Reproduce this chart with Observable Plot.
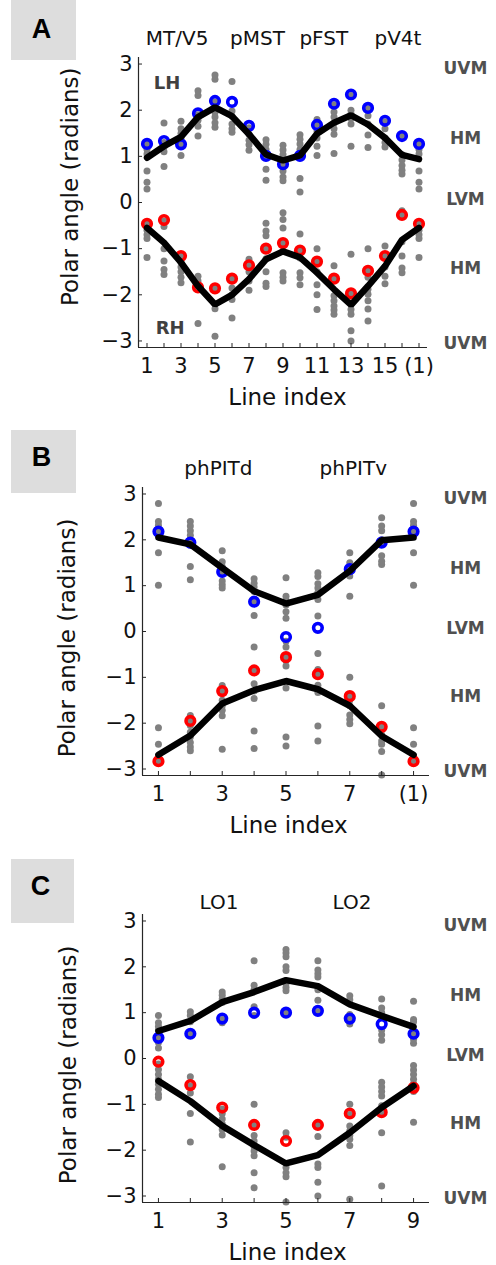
<!DOCTYPE html>
<html><head><meta charset="utf-8">
<script src="https://cdn.jsdelivr.net/npm/d3@7"></script>
<script src="https://cdn.jsdelivr.net/npm/@observablehq/plot@0.6"></script>
<style>
body{margin:0;background:#fff;}
#page{position:relative;width:496px;height:1265px;overflow:hidden;background:#fff;}
.panel{position:absolute;left:0;}
.tag{position:absolute;background:#dddddd;display:flex;align-items:center;justify-content:center;font-family:"Liberation Sans",Arial,sans-serif;font-weight:bold;font-size:27px;color:#000;box-sizing:border-box;}
</style></head>
<body><div id="page">
<div id="pA" class="panel" style="top:0px"></div>
<div id="pB" class="panel" style="top:420px"></div>
<div id="pC" class="panel" style="top:840px"></div>
<div class="tag" style="left:11px;top:-4px;width:65px;height:64px;padding-right:4px;padding-top:2px">A</div>
<div class="tag" style="left:11px;top:430px;width:65px;height:63px;padding-right:4px;padding-bottom:8px">B</div>
<div class="tag" style="left:11px;top:859px;width:63px;height:64px;padding-right:4px;padding-bottom:10px">C</div>
</div>
<script>
// ---------- shared ----------
const yTicks = [-3, -2, -1, 0, 1, 2, 3];
const meridianNames = ["UVM", "HM", "LVM", "HM", "UVM"];
const meridianY = [2.91, 1.38, 0.07, -1.43, -3.05];
const yLabel = "Polar angle (radians)";
const xLabel = "Line index";

// ---------- Panel A ----------
const tickPosA = [1, 3, 5, 7, 9, 11, 13, 15, 17];
const tickLabA = ["1", "3", "5", "7", "9", "11", "13", "15", "(1)"];
const regionNamesA = ["MT/V5", "pMST", "pFST", "pV4t"];
const regionXA = [2.77, 7.5, 11.4, 15.76];
const lineLHA = [0.97, 1.22, 1.42, 1.85, 2.06, 1.87, 1.48, 1.04, 0.91, 1.02, 1.49, 1.73, 1.89, 1.69, 1.40, 1.03, 0.94];
const lineRHA = [-0.55, -0.87, -1.30, -1.81, -2.21, -2.0, -1.66, -1.23, -1.06, -1.19, -1.52, -1.88, -2.22, -1.81, -1.38, -0.81, -0.55];
const circLHA = [1.27, 1.33, 1.26, 1.93, 2.20, 2.18, 1.66, 1.01, 0.83, 1.01, 1.68, 2.14, 2.34, 2.05, 1.77, 1.44, 1.27];
const circRHA = [-0.46, -0.38, -1.16, -1.84, -1.86, -1.65, -1.36, -1.0, -0.88, -1.04, -1.28, -1.65, -1.97, -1.48, -1.16, -0.27, -0.46];
const grayA = [
  [1.26, 1.15, 1.05, 0.68, 0.44, 0.29, -0.45, -0.6, -0.7, -0.78, -1.19],
  [1.72, 1.3, 1.2, 1.1, 0.78, -0.4, -0.52, -1.0, -1.27, -1.45, -1.56],
  [1.76, 1.6, 1.5, 1.38, 1.27, 1.02, -1.16, -1.3, -1.4, -1.5, -1.62, -1.74],
  [2.42, 2.32, 1.9, 1.78, 1.65, 1.44, -1.6, -1.7, -1.8, -1.88, -2.62],
  [2.76, 2.67, 2.18, 2.05, 1.95, 1.85, 1.73, 1.63, -1.85, -2.2, -2.3, -2.9],
  [2.62, 1.98, 1.87, 1.7, 1.6, 1.52, -1.65, -1.85, -2.0, -2.1, -2.5],
  [1.62, 1.48, 1.35, 1.25, 1.13, -1.23, -1.38, -1.5, -1.7, -1.9],
  [1.36, 1.26, 1.15, 1.0, 0.72, 0.48, -0.45, -0.62, -0.72, -1.0, -1.22, -1.5, -1.75, -1.82],
  [1.24, 1.14, 1.04, 0.9, 0.83, 0.68, 0.55, 0.47, -0.22, -0.37, -0.55, -0.87, -1.05, -1.52, -1.62, -1.7],
  [1.47, 1.37, 1.27, 1.15, 1.01, 0.52, 0.23, -0.68, -1.04, -1.2, -1.52, -1.63, -1.78],
  [1.8, 1.7, 1.55, 1.4, 1.22, 1.02, -1.0, -1.28, -1.5, -1.78, -2.0, -2.32],
  [2.12, 1.96, 1.85, 1.72, 1.6, 1.48, 1.06, -1.37, -1.65, -2.02, -2.13, -2.24, -2.33, -2.42],
  [2.32, 2.0, 1.92, 1.82, 1.7, 1.22, -1.12, -1.97, -2.18, -2.32, -2.42, -2.78, -3.0],
  [2.03, 1.88, 1.7, 1.46, 1.19, -1.0, -1.48, -1.62, -1.88, -1.99, -2.13, -2.31, -2.57],
  [1.75, 1.6, 1.4, 1.3, 1.2, -0.94, -1.16, -1.4, -1.6, -1.76],
  [1.44, 1.04, 0.92, 0.8, 0.7, 0.62, -0.18, -0.27, -0.85, -1.16, -1.42, -1.52],
  [1.26, 1.15, 1.05, 0.68, 0.44, 0.29, -0.45, -0.6, -0.7, -0.78, -1.19]
];

// ---------- Panel B ----------
const tickPosB = [1, 3, 5, 7, 9];
const tickLabB = ["1", "3", "5", "7", "(1)"];
const regionNamesB = ["phPITd", "phPITv"];
const regionXB = [2.88, 7.11];
const lineLHB = [2.05, 1.90, 1.39, 0.88, 0.61, 0.80, 1.32, 1.99, 2.05];
const lineRHB = [-2.69, -2.27, -1.57, -1.28, -1.08, -1.26, -1.62, -2.28, -2.69];
const circLHB = [2.18, 1.94, 1.30, 0.65, -0.12, 0.08, 1.36, 1.94, 2.18];
const circRHB = [-2.83, -1.95, -1.30, -0.85, -0.56, -0.93, -1.41, -2.08, -2.83];
const grayB = [
  [2.79, 2.4, 2.32, 2.2, 2.1, 1.72, 1.01, -2.1, -2.46, -2.72, -2.83],
  [2.4, 2.3, 2.2, 2.1, 2.0, 1.88, 1.42, 1.13, -1.83, -1.95, -2.05, -2.2, -2.3, -2.42, -2.52, -2.6],
  [1.76, 1.52, 1.42, 1.3, 1.1, 1.02, 0.95, -1.18, -1.3, -1.5, -1.62, -1.72, -1.84, -2.57],
  [1.15, 1.05, 0.97, 0.87, 0.65, 0.35, -0.34, -0.85, -1.14, -1.3, -1.46, -2.17, -2.55],
  [1.17, 0.77, 0.68, 0.58, 0.43, 0.29, -0.21, -0.34, -0.56, -0.64, -0.75, -1.1, -1.23, -2.3, -2.5],
  [1.28, 1.2, 1.04, 0.95, 0.85, 0.7, 0.34, -0.48, -0.83, -0.93, -1.17, -1.33, -2.06, -2.39],
  [1.72, 1.5, 1.38, 1.3, 1.21, 0.77, -1.0, -1.4, -1.5, -1.62, -1.82, -1.92, -2.01],
  [2.48, 2.3, 2.2, 2.0, 1.9, 1.65, 1.53, 1.46, -1.62, -2.08, -2.25, -2.39, -2.46, -2.62, -3.13],
  [2.79, 2.4, 2.32, 2.2, 2.1, 1.72, 1.01, -2.1, -2.46, -2.72, -2.83]
];

// ---------- Panel C ----------
const tickPosC = [1, 3, 5, 7, 9];
const tickLabC = ["1", "3", "5", "7", "9"];
const regionNamesC = ["LO1", "LO2"];
const regionXC = [2.9, 7.07];
const lineLHC = [0.60, 0.82, 1.23, 1.45, 1.71, 1.58, 1.18, 0.93, 0.69];
const lineRHC = [-0.49, -0.93, -1.47, -1.89, -2.29, -2.11, -1.62, -1.07, -0.60];
const circLHC = [0.45, 0.54, 0.87, 1.0, 1.0, 1.04, 0.87, 0.75, 0.54];
const circRHC = [-0.07, -0.58, -1.07, -1.45, -1.80, -1.45, -1.20, -1.17, -0.64];
const grayC = [
  [0.94, 0.78, 0.7, 0.62, 0.45, 0.35, 0.23, -0.12, -0.24, -0.35, -0.45, -0.56, -0.67, -0.78, -0.85],
  [1.02, 0.94, 0.8, 0.53, -0.4, -0.6, -0.75, -1.2, -1.82],
  [1.45, 1.38, 1.3, 1.22, 0.85, 0.78, -1.1, -1.2, -1.32, -1.43, -1.55, -1.67, -2.36],
  [2.13, 1.6, 1.5, 1.13, 0.94, -1.0, -1.44, -1.68, -1.8, -1.92, -2.02, -2.12, -2.49, -2.82],
  [2.38, 2.3, 2.22, 2.0, 1.92, 1.63, 1.55, 1.48, 1.0, -1.62, -1.72, -2.38, -2.49, -2.58, -3.13],
  [2.13, 1.93, 1.85, 1.78, 1.5, 1.27, 1.02, -1.45, -1.7, -2.3, -2.38, -2.7, -3.0],
  [1.37, 1.28, 0.96, 0.85, 0.75, -1.0, -1.22, -1.47, -1.58, -1.68, -1.76, -1.9, -3.07],
  [1.3, 1.1, 1.0, 0.9, 0.62, 0.52, 0.4, -0.52, -0.62, -0.72, -0.82, -1.03, -1.17, -1.62, -2.78],
  [1.25, 0.85, 0.8, 0.54, 0.42, 0.33, -0.15, -0.25, -0.35, -0.45, -0.55, -0.72, -1.39]
];

function minusFmt(d) { return d < 0 ? "\u2212" + Math.abs(d) : String(d); }

function panel(cfg) {
  const n = cfg.lineLH.length;
  const cols = d3.range(1, n + 1);
  const lines = [
    ...cfg.lineLH.map((v, i) => ({x: i + 1, y: v, h: "LH"})),
    ...cfg.lineRH.map((v, i) => ({x: i + 1, y: v, h: "RH"}))
  ];
  const circL = cfg.circLH.map((v, i) => ({x: i + 1, y: v}));
  const circR = cfg.circRH.map((v, i) => ({x: i + 1, y: v}));
  const gray = cfg.gray.flatMap((col, i) => col.map(v => ({x: i + 1, y: v})));
  const xDomain = [0.5, n + 0.5];
  const yDomain = [-Math.PI, Math.PI];
  const frameH = cfg.height - cfg.mt - cfg.mb;
  const frameW = 496 - cfg.ml - cfg.mr;
  const labMap = new Map(cfg.tickPos.map((p, i) => [p, cfg.tickLab[i]]));
  const marks = [
    Plot.dot(gray, {x: "x", y: "y", r: 3.5, fill: "#808080"}),
    Plot.dot(circL, {x: "x", y: "y", r: 4.3, stroke: "#0000ff", strokeWidth: 3.6, fill: "none"}),
    Plot.dot(circR, {x: "x", y: "y", r: 4.3, stroke: "#ff0000", strokeWidth: 3.6, fill: "none"}),
    Plot.line(lines, {x: "x", y: "y", z: "h", stroke: "black", strokeWidth: 6.5, strokeLinejoin: "miter"}),
    Plot.ruleX([xDomain[0]], {stroke: "#262626", strokeWidth: 1.2}),
    Plot.ruleY([yDomain[0]], {stroke: "#262626", strokeWidth: 1.2}),
    Plot.tickX(cols, {x: d => d, insetTop: frameH - 4, stroke: "#262626"}),
    Plot.tickY(yTicks, {y: d => d, insetRight: frameW - 4, stroke: "#262626"}),
    Plot.axisY({ticks: yTicks, tickSize: 0, tickPadding: 6, fontSize: 21, tickFormat: minusFmt, label: null}),
    Plot.axisX({ticks: cfg.tickPos, tickSize: 0, tickPadding: 11, fontSize: 21, tickFormat: d => labMap.get(d), label: null}),
    Plot.text(cfg.regionNames, {x: (d, i) => cfg.regionX[i], frameAnchor: "top", dy: cfg.regionDy, lineAnchor: "middle", fontSize: 20, fill: "#111"}),
    Plot.text(meridianNames, {y: (d, i) => meridianY[i], frameAnchor: "right", dx: cfg.merDx, textAnchor: "middle", fontSize: 17, fontWeight: "bold", fill: "#505050"}),
    Plot.text([yLabel], {y: [cfg.yLabY], frameAnchor: "left", dx: cfg.yLabDx, rotate: -90, textAnchor: "middle", lineAnchor: "middle", fontSize: 23, fill: "#111"}),
    Plot.text([xLabel], {x: [cfg.xLabX], frameAnchor: "bottom", dy: 50, textAnchor: "middle", lineAnchor: "middle", fontSize: 23, fill: "#111"})
  ];
  if (cfg.hemiText) {
    marks.push(Plot.text(cfg.hemiText, {x: (d, i) => cfg.hemiX[i], y: (d, i) => cfg.hemiY[i], fontSize: 18, fontWeight: "bold", fill: "#404040"}));
  }
  return Plot.plot({
    width: 496, height: cfg.height,
    marginLeft: cfg.ml, marginRight: cfg.mr, marginTop: cfg.mt, marginBottom: cfg.mb,
    x: {domain: xDomain, label: null, axis: null},
    y: {domain: yDomain, label: null, axis: null},
    style: {fontFamily: "DejaVu Sans", fontSize: "20px", color: "#111", background: "white", overflow: "visible"},
    marks
  });
}

document.getElementById("pA").append(panel({
  height: 420, ml: 138, mr: 69, mt: 57, mb: 73,
  lineLH: lineLHA, lineRH: lineRHA, circLH: circLHA, circRH: circRHA, gray: grayA,
  tickPos: tickPosA, tickLab: tickLabA, regionNames: regionNamesA, regionX: regionXA, regionDy: -19,
  merDx: 38, yLabY: 0.34, yLabDx: -68, xLabX: 9.26,
  hemiText: ["LH", "RH"], hemiX: [2.18, 2.36], hemiY: [2.59, -2.72]
}));
document.getElementById("pB").append(panel({
  height: 420, ml: 142, mr: 67, mt: 67, mb: 65,
  lineLH: lineLHB, lineRH: lineRHB, circLH: circLHB, circRH: circRHB, gray: grayB,
  tickPos: tickPosB, tickLab: tickLabB, regionNames: regionNamesB, regionX: regionXB, regionDy: -19,
  merDx: 36, yLabY: -0.14, yLabDx: -75, xLabX: 5.08
}));
document.getElementById("pC").append(panel({
  height: 425, ml: 142, mr: 67, mt: 74, mb: 63,
  lineLH: lineLHC, lineRH: lineRHC, circLH: circLHC, circRH: circRHC, gray: grayC,
  tickPos: tickPosC, tickLab: tickLabC, regionNames: regionNamesC, regionX: regionXC, regionDy: -12,
  merDx: 36, yLabY: -0.14, yLabDx: -74, xLabX: 5.05
}));
</script>
</body></html>
